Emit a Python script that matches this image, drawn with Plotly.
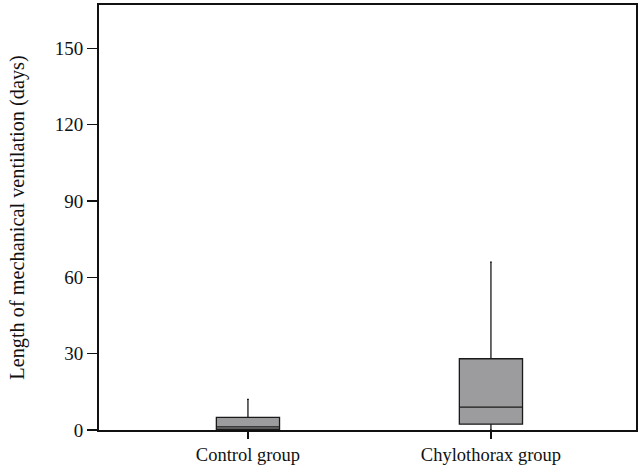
import plotly.graph_objects as go

categories = ["Control group", "Chylothorax group"]
positions = [0, 1]
lowerfence = [0, 0]
q1 = [0.3, 2.3]
median = [1.2, 9]
q3 = [5, 28]
upperfence = [12, 66]
y_ticks = [0, 30, 60, 90, 120, 150]

fig = go.Figure()
fig.add_trace(go.Box(
    x=positions, q1=q1, median=median, q3=q3,
    lowerfence=lowerfence, upperfence=upperfence,
    width=0.26, whiskerwidth=0.03,
    fillcolor="#9c9c9f",
    line=dict(color="#1a1a1a", width=1.3),
    boxpoints=False, showlegend=False, hoverinfo="skip",
))

font = "Liberation Serif, Times New Roman, serif"
fig.update_layout(
    width=643, height=468,
    margin=dict(l=99, r=7, t=5, b=38, autoexpand=False),
    paper_bgcolor="white", plot_bgcolor="white",
    font=dict(family=font, size=19, color="#111"),
    xaxis=dict(
        range=[-0.613, 1.597], tickvals=positions, ticktext=categories,
        showline=True, linecolor="#111", linewidth=2, mirror=True,
        ticks="outside", ticklen=7, tickwidth=1.5, tickcolor="#111",
        showgrid=False, zeroline=False, automargin=False,
        tickfont=dict(size=18.5),
    ),
    yaxis=dict(
        range=[0, 167], tickvals=y_ticks,
        showline=True, linecolor="#111", linewidth=2, mirror=True,
        ticks="outside", ticklen=10, tickwidth=1.5, tickcolor="#111",
        showgrid=False, zeroline=False, automargin=False,
        title=dict(text="Length of mechanical ventilation (days)", font=dict(size=20.3), standoff=25),
        tickfont=dict(size=19),
    ),
)
fig.write_html("out.html", config={"displayModeBar": False, "staticPlot": True},
               post_script="document.body.style.margin='0';document.body.style.overflow='hidden';")
